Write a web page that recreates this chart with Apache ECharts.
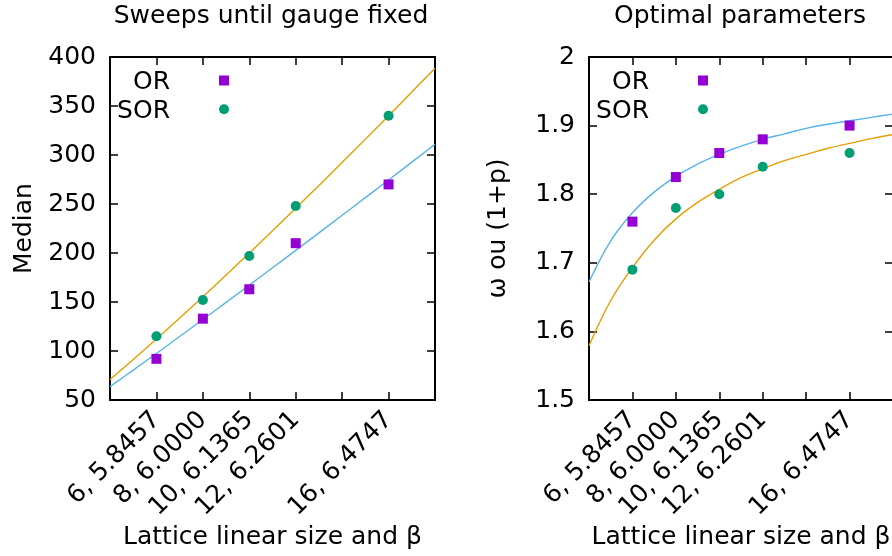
<!DOCTYPE html>
<html>
<head>
<meta charset="utf-8">
<style>
  html, body { margin: 0; padding: 0; background: #fff; }
  #main { width: 892px; height: 556px; }
</style>
<script src="https://cdn.jsdelivr.net/npm/echarts@6/dist/echarts.min.js"></script>
</head>
<body>
<div id="main"></div>
<script>
// lattice sizes and beta values shown on the x axis
var latticeL = [6, 8, 10, 12, 16];
var betaLabels = ['5.8457', '6.0000', '6.1365', '6.2601', '6.4747'];

// left panel: median sweeps
var sweepsOR = [92, 133, 163, 210, 270];
var sweepsSOR = [115, 152, 197, 248, 340];

// right panel: optimal omega / (1+p)
var paramOR = [1.76, 1.825, 1.86, 1.88, 1.90];
var paramSOR = [1.69, 1.78, 1.80, 1.84, 1.86];

// fit curves at L = 4..18
var fitL = [4, 5, 6, 7, 8, 9, 10, 11, 12, 13, 14, 15, 16, 17, 18];
var sweepsFitOR = [63.6, 80.5, 97.5, 114.8, 132.1, 149.6, 167.2, 184.9, 202.7, 220.5, 238.5, 256.5, 274.5, 292.7, 310.9];
var sweepsFitSOR = [71.0, 91.4, 112.3, 133.6, 155.4, 177.5, 200.0, 222.7, 245.7, 268.9, 292.5, 316.2, 340.1, 364.2, 388.5];
var paramFitOR = [1.672, 1.732, 1.773, 1.803, 1.826, 1.844, 1.858, 1.870, 1.880, 1.888, 1.896, 1.902, 1.907, 1.912, 1.917];
var paramFitSOR = [1.579, 1.645, 1.693, 1.733, 1.764, 1.788, 1.807, 1.824, 1.837, 1.849, 1.858, 1.867, 1.874, 1.881, 1.887];

var FONT = 'DejaVu Sans';
var FS = 25;
var colOR = '#9400d3';
var colSOR = '#009e73';
var colFitOR = '#56b4e9';
var colFitSOR = '#e69f00';

function pairs(xs, ys) {
  return xs.map(function (x, i) { return [x, ys[i]]; });
}

function xLabel(v) {
  var i = latticeL.indexOf(v);
  return i < 0 ? '' : latticeL[i] + ', ' + betaLabels[i];
}

function xAxes(grid) {
  var common = {
    gridIndex: grid, type: 'value', min: 4, max: 18, interval: 2,
    axisLine: { onZero: false, lineStyle: { color: '#000', width: 2 } },
    axisTick: { inside: true, length: 8, lineStyle: { color: '#000', width: 1.5 } },
    splitLine: { show: false }
  };
  var bottom = Object.assign({}, common, {
    position: 'bottom',
    name: 'Lattice linear size and β',
    nameLocation: 'middle',
    nameGap: 125,
    nameMoveOverlap: false,
    nameTextStyle: { fontSize: FS, fontFamily: FONT, color: '#000' },
    axisLabel: { rotate: 45, margin: 16, fontSize: FS, fontFamily: FONT, color: '#000', formatter: xLabel }
  });
  var top = Object.assign({}, common, { position: 'top', axisLabel: { show: false } });
  return [bottom, top];
}

function yAxes(grid, min, max, step, name, gap) {
  var common = {
    gridIndex: grid, type: 'value', min: min, max: max, interval: step,
    axisLine: { onZero: false, lineStyle: { color: '#000', width: 2 } },
    axisTick: { inside: true, length: 8, lineStyle: { color: '#000', width: 1.5 } },
    splitLine: { show: false }
  };
  var left = Object.assign({}, common, {
    position: 'left',
    name: name,
    nameLocation: 'middle',
    nameGap: gap,
    nameMoveOverlap: false,
    nameTextStyle: { fontSize: FS, fontFamily: FONT, color: '#000' },
    axisLabel: { margin: 14, fontSize: FS, fontFamily: FONT, color: '#000' }
  });
  var right = Object.assign({}, common, { position: 'right', axisLabel: { show: false } });
  return [left, right];
}

function fitSeries(xi, yi, ys, color) {
  return {
    type: 'line', xAxisIndex: xi, yAxisIndex: yi, data: pairs(fitL, ys),
    symbol: 'none', smooth: 0.4, silent: true, z: 2,
    lineStyle: { color: color, width: 1.4 }
  };
}

function pointSeries(xi, yi, ys, symbol, color) {
  return {
    type: 'scatter', xAxisIndex: xi, yAxisIndex: yi, data: pairs(latticeL, ys),
    symbol: symbol, symbolSize: 10, silent: true, z: 3,
    itemStyle: { color: color, opacity: 1 }
  };
}

function keyItems(textRight, markX) {
  var font = FS + 'px "' + FONT + '"';
  return [
    { type: 'text', style: { text: 'OR', x: textRight, y: 82, align: 'right', verticalAlign: 'middle', font: font, fill: '#000' } },
    { type: 'text', style: { text: 'SOR', x: textRight, y: 111, align: 'right', verticalAlign: 'middle', font: font, fill: '#000' } },
    { type: 'rect', shape: { x: markX - 5, y: 75.5, width: 10, height: 10 }, style: { fill: colOR } },
    { type: 'circle', shape: { cx: markX, cy: 109.3, r: 5 }, style: { fill: colSOR } }
  ];
}

var chart = echarts.init(document.getElementById('main'), null, { renderer: 'canvas' });

chart.setOption({
  animation: false,
  backgroundColor: '#fff',
  textStyle: { fontFamily: FONT },
  title: [
    { text: 'Sweeps until gauge fixed', left: 271, top: 4, padding: 0, textAlign: 'center',
      textStyle: { fontSize: FS, fontWeight: 'normal', fontFamily: FONT, color: '#000' } },
    { text: 'Optimal parameters', left: 740, top: 4, padding: 0, textAlign: 'center',
      textStyle: { fontSize: FS, fontWeight: 'normal', fontFamily: FONT, color: '#000' } }
  ],
  grid: [
    { left: 110, top: 57, width: 325, height: 343, outerBoundsMode: 'none' },
    { left: 589, top: 57, width: 304, height: 343, outerBoundsMode: 'none' }
  ],
  xAxis: xAxes(0).concat(xAxes(1)),
  yAxis: yAxes(0, 50, 400, 50, 'Median', 73).concat(yAxes(1, 1.5, 2, 0.1, 'ω ou (1+p)', 78)),
  series: [
    fitSeries(0, 0, sweepsFitOR, colFitOR),
    fitSeries(0, 0, sweepsFitSOR, colFitSOR),
    pointSeries(0, 0, sweepsOR, 'rect', colOR),
    pointSeries(0, 0, sweepsSOR, 'circle', colSOR),
    fitSeries(2, 2, paramFitOR, colFitOR),
    fitSeries(2, 2, paramFitSOR, colFitSOR),
    pointSeries(2, 2, paramOR, 'rect', colOR),
    pointSeries(2, 2, paramSOR, 'circle', colSOR)
  ],
  graphic: keyItems(170, 224).concat(keyItems(649, 703))
});
</script>
</body>
</html>
